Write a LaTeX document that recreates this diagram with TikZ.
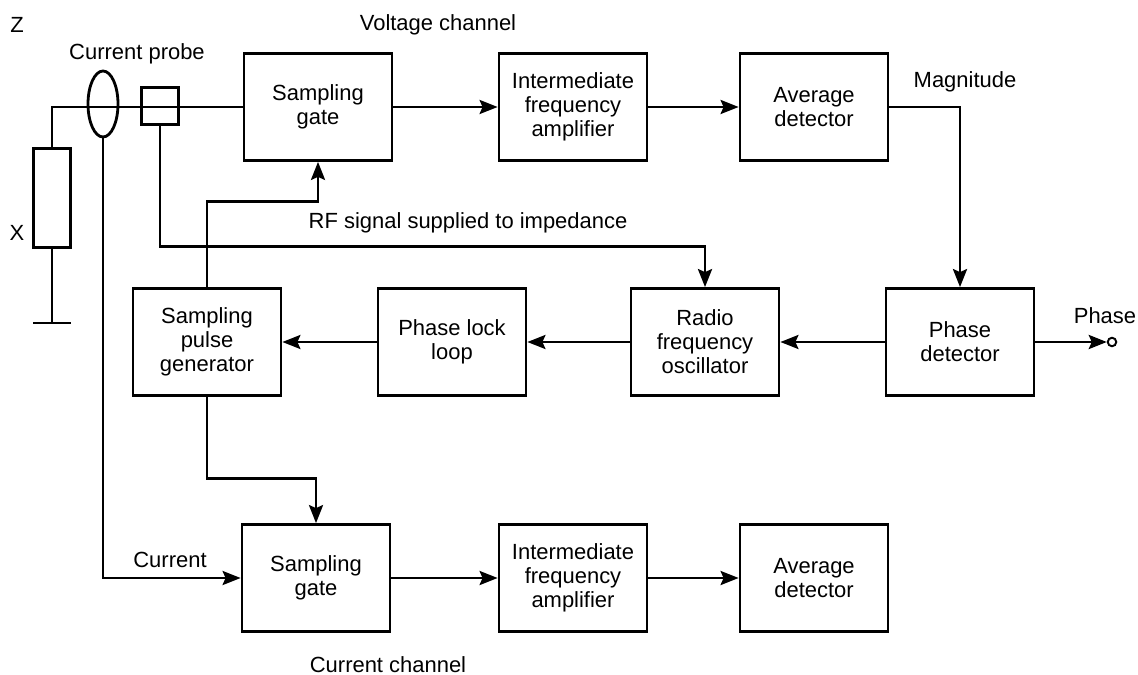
\documentclass[tikz,border=0pt]{standalone}
\usepackage{fontspec}
\setmainfont{Liberation Sans}
\usetikzlibrary{arrows.meta,calc,positioning,shapes.geometric}

\tikzset{
  block/.style={draw, line width=1.6pt, minimum width=2.96cm, minimum height=2.14cm, align=center, inner sep=2pt},
  wire/.style={line width=1.6pt},
  sig/.style={wire, -{Stealth[length=3.6mm,width=2.8mm,inset=0.6mm]}},
  lbl/.style={inner sep=0pt}
}

\begin{document}
\begin{tikzpicture}[x=0.02cm, y=-0.02cm, font=\fontsize{12.5}{13.6}\selectfont]
  \useasboundingbox (0,0) rectangle (1138,675);

  % Voltage channel (top row)
  \node[block] (SG1) at (318,107) {Sampling\\gate};
  \node[block] (IF1) at (573,107) {Intermediate\\frequency\\amplifier};
  \node[block] (AD1) at (814,107) {Average\\detector};

  % Oscillator and phase loop (middle row)
  \node[block] (SPG) at (207,342) {Sampling\\pulse\\generator};
  \node[block] (PLL) at (452,342) {Phase lock\\loop};
  \node[block] (RFO) at (705,342) {Radio\\frequency\\oscillator};
  \node[block] (PD) at (960,342) {Phase\\detector};

  % Current channel (bottom row)
  \node[block] (SG2) at (316,578) {Sampling\\gate};
  \node[block] (IF2) at (573,578) {Intermediate\\frequency\\amplifier};
  \node[block] (AD2) at (814,578) {Average\\detector};

  % Impedance under test, probes and ground
  \coordinate (Zc) at (52,107);
  \coordinate (Gnd) at (52,323);
  \node[draw, wire, minimum width=0.74cm, minimum height=1.98cm, inner sep=0pt] (Xr) at (52,198) {};
  \draw[wire] (Xr.north) -- (Zc) -- (SG1.west);
  \draw[wire] (Xr.south) -- (Gnd);
  \draw[wire] ($(Gnd)+(-19,0)$) -- ($(Gnd)+(19,0)$);
  \node[draw, wire, ellipse, minimum width=0.6cm, minimum height=1.32cm, inner sep=0pt] (CP) at (103,104) {};
  \node[draw, wire, minimum size=0.74cm, inner sep=0pt] (VP) at (160,106) {};

  % Signal paths
  \draw[sig] (SG1) -- (IF1);
  \draw[sig] (IF1) -- (AD1);
  \draw[sig] (AD1.east) -| (PD.north);
  \draw[sig] (PD) -- (RFO);
  \draw[sig] (RFO) -- (PLL);
  \draw[sig] (PLL) -- (SPG);
  \draw[sig] (SPG.north) -- ++(0,-86) -| (SG1.south);
  \draw[sig] (SPG.south) -- ++(0,82) -| (SG2.north);
  \draw[sig] (VP.south) -- ++(0,121) -| (RFO.north);
  \draw[sig] (CP.south) |- (SG2.west);
  \draw[sig] (SG2) -- (IF2);
  \draw[sig] (IF2) -- (AD2);

  % Phase output terminal
  \node[draw, circle, line width=1.1pt, minimum size=0.17cm, inner sep=0pt] (PHo) at (1112,342) {};
  \draw[sig] (PD.east) -- (PHo.west);

  % Labels
  \node[lbl] (Zl) at (17,25) {Z};
  \node[lbl] (Xl) at (17,233) {X};
  \node[lbl] (CPl) at (137,54) {Current probe};
  \node[lbl] (VCl) at (438,25) {Voltage channel};
  \node[lbl] (MAGl) at (965,82) {Magnitude};
  \node[lbl] (RFl) at (468,223) {RF signal supplied to impedance};
  \node[lbl] (PHl) at (1105,316) {Phase};
  \node[lbl] (CURl) at (170,560) {Current};
  \node[lbl] (CCl) at (388,665) {Current channel};
\end{tikzpicture}
\end{document}
